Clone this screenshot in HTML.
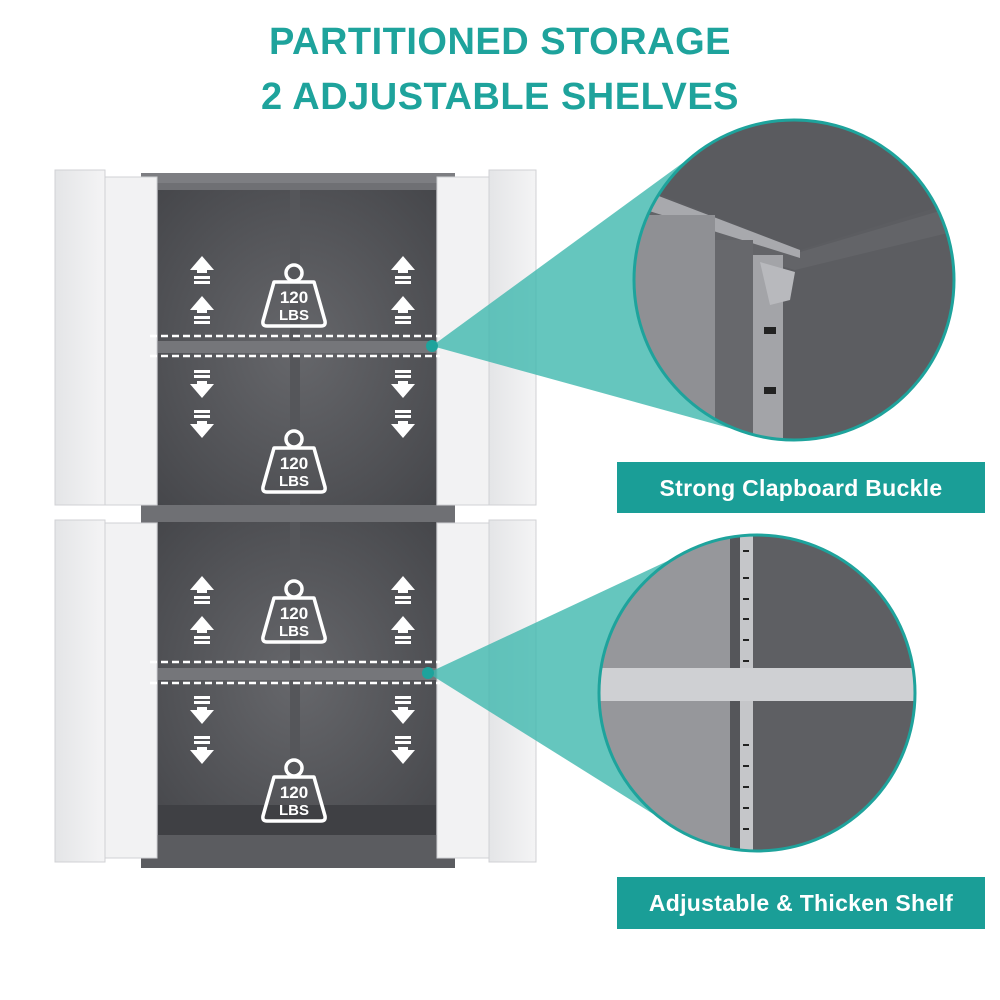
<!DOCTYPE html>
<html><head><meta charset="utf-8"><style>
html,body{margin:0;padding:0;background:#fff;}
svg{display:block}
.t{font-family:"Liberation Sans",sans-serif;font-weight:bold;}
</style></head><body>
<svg width="1000" height="1000" viewBox="0 0 1000 1000" xmlns="http://www.w3.org/2000/svg">
<defs>
<linearGradient id="door" x1="0" x2="1"><stop offset="0" stop-color="#e4e5e7"/><stop offset="1" stop-color="#f4f4f5"/></linearGradient>
<radialGradient id="inner" cx="0.5" cy="0.5" r="0.7"><stop offset="0" stop-color="#66676b"/><stop offset="1" stop-color="#46474b"/></radialGradient>
<g id="wt">
<circle cx="0" cy="-17" r="8" fill="none" stroke="#fff" stroke-width="3.5"/>
<path d="M-20,-8 L20,-8 L31,31 Q32,36 27,36 L-27,36 Q-32,36 -31,31 Z" fill="none" stroke="#fff" stroke-width="3.5" stroke-linejoin="round"/>
<text x="0" y="13" text-anchor="middle" class="t" font-size="17" fill="#fff">120</text>
<text x="0" y="30" text-anchor="middle" class="t" font-size="15" fill="#fff">LBS</text>
</g>
<g id="up"><path d="M0,-14 L12,0 L5,0 L5,3 L-5,3 L-5,0 L-12,0 Z" fill="#fff"/><rect x="-8" y="6" width="16" height="3" fill="#fff"/><rect x="-8" y="11" width="16" height="3" fill="#fff"/></g>
<g id="dn"><g transform="scale(1,-1)"><path d="M0,-14 L12,0 L5,0 L5,3 L-5,3 L-5,0 L-12,0 Z" fill="#fff"/><rect x="-8" y="6" width="16" height="3" fill="#fff"/><rect x="-8" y="11" width="16" height="3" fill="#fff"/></g></g>
<clipPath id="c1"><circle cx="794" cy="280" r="160"/></clipPath>
<clipPath id="c2"><circle cx="757" cy="693" r="158"/></clipPath>
</defs>

<text x="500" y="54" text-anchor="middle" class="t" font-size="38" fill="#1ea39c" letter-spacing="0.5">PARTITIONED STORAGE</text>
<text x="500" y="109" text-anchor="middle" class="t" font-size="38" fill="#1ea39c" letter-spacing="0.5">2 ADJUSTABLE SHELVES</text>

<!-- upper cabinet -->
<rect x="141" y="173" width="314" height="335" fill="#6f7074"/>
<rect x="158" y="190" width="278" height="316" fill="url(#inner)"/>
<rect x="290" y="190" width="10" height="316" fill="#55565a"/>
<rect x="158" y="341" width="278" height="12" fill="#75767a"/>
<rect x="141" y="173" width="314" height="10" fill="#7d7e82"/>
<!-- lower cabinet -->
<rect x="141" y="505" width="314" height="363" fill="#6f7074"/>
<rect x="158" y="522" width="278" height="313" fill="url(#inner)"/>
<rect x="290" y="522" width="10" height="300" fill="#55565a"/>
<rect x="158" y="805" width="278" height="30" fill="#3f4044"/>
<rect x="158" y="668" width="278" height="12" fill="#75767a"/>
<rect x="141" y="835" width="314" height="33" fill="#5b5c60"/>

<!-- doors -->
<g stroke="#d0d1d4" stroke-width="1">
<rect x="55" y="170" width="50" height="335" fill="url(#door)"/>
<rect x="105" y="177" width="52" height="328" fill="#f2f2f3"/>
<rect x="437" y="177" width="52" height="328" fill="#f2f2f3"/>
<rect x="489" y="170" width="47" height="335" fill="url(#door)"/>
<rect x="55" y="520" width="50" height="342" fill="url(#door)"/>
<rect x="105" y="523" width="52" height="335" fill="#f2f2f3"/>
<rect x="437" y="523" width="52" height="335" fill="#f2f2f3"/>
<rect x="489" y="520" width="47" height="342" fill="url(#door)"/>
</g>

<!-- dashed shelf marks -->
<g fill="none" stroke="#fff" stroke-width="2.5" stroke-dasharray="7,4">
<line x1="150" y1="336" x2="440" y2="336"/><line x1="150" y1="356" x2="440" y2="356"/>
<line x1="150" y1="662" x2="440" y2="662"/><line x1="150" y1="683" x2="440" y2="683"/>
</g>

<!-- beams -->
<polygon points="432,346 699,151 751,434" fill="#3fb8ae" opacity="0.8"/>
<polygon points="428,673 691,550 674,827" fill="#3fb8ae" opacity="0.8"/>
<circle cx="432" cy="346" r="6" fill="#1ea39c"/>
<circle cx="428" cy="673" r="6" fill="#1ea39c"/>

<!-- icons -->
<use href="#wt" x="294" y="290"/>
<use href="#wt" x="294" y="456"/>
<use href="#wt" x="294" y="606"/>
<use href="#wt" x="294" y="785"/>
<use href="#up" x="202" y="270"/><use href="#up" x="202" y="310"/>
<use href="#up" x="403" y="270"/><use href="#up" x="403" y="310"/>
<use href="#dn" x="202" y="384"/><use href="#dn" x="202" y="424"/>
<use href="#dn" x="403" y="384"/><use href="#dn" x="403" y="424"/>
<use href="#up" x="202" y="590"/><use href="#up" x="202" y="630"/>
<use href="#up" x="403" y="590"/><use href="#up" x="403" y="630"/>
<use href="#dn" x="202" y="710"/><use href="#dn" x="202" y="750"/>
<use href="#dn" x="403" y="710"/><use href="#dn" x="403" y="750"/>

<!-- top circle -->
<g clip-path="url(#c1)">
<rect x="630" y="115" width="330" height="330" fill="#5c5d61"/>
<polygon points="630,115 960,115 960,200 800,250 650,190" fill="#5a5b5f"/>
<polygon points="630,200 790,255 960,205 960,230 795,270 630,225" fill="#636468"/>
<polygon points="630,185 800,250 800,258 630,205" fill="#a8a9ad"/>
<rect x="630" y="215" width="85" height="230" fill="#8f9094"/>
<rect x="715" y="240" width="38" height="205" fill="#67686c"/>
<rect x="753" y="255" width="30" height="190" fill="#a3a4a8"/>
<path d="M760,262 L795,272 L790,300 L770,305 Z" fill="#b8b9bd"/>
<rect x="764" y="327" width="12" height="7" fill="#222"/>
<rect x="764" y="387" width="12" height="7" fill="#222"/>
</g>
<circle cx="794" cy="280" r="160" fill="none" stroke="#1ea39c" stroke-width="3"/>

<!-- bottom circle -->
<g clip-path="url(#c2)">
<rect x="595" y="530" width="325" height="330" fill="#5e5f63"/>
<rect x="595" y="530" width="135" height="330" fill="#96979b"/>
<rect x="730" y="535" width="10" height="320" fill="#55565a"/>
<rect x="740" y="535" width="13" height="320" fill="#c5c6c9"/>
<rect x="595" y="668" width="325" height="33" fill="#cfd0d3"/>
<g fill="#222">
<rect x="743" y="550" width="6" height="2"/><rect x="743" y="577" width="6" height="2"/><rect x="743" y="598" width="6" height="2"/><rect x="743" y="618" width="6" height="2"/><rect x="743" y="639" width="6" height="2"/><rect x="743" y="660" width="6" height="2"/>
<rect x="743" y="744" width="6" height="2"/><rect x="743" y="765" width="6" height="2"/><rect x="743" y="786" width="6" height="2"/><rect x="743" y="807" width="6" height="2"/><rect x="743" y="828" width="6" height="2"/>
</g>
</g>
<circle cx="757" cy="693" r="158" fill="none" stroke="#1ea39c" stroke-width="3"/>

<!-- labels -->
<rect x="617" y="462" width="368" height="51" fill="#1a9e97"/>
<text x="801" y="496" text-anchor="middle" class="t" font-size="23" fill="#fff" letter-spacing="0.3">Strong Clapboard Buckle</text>
<rect x="617" y="877" width="368" height="52" fill="#1a9e97"/>
<text x="801" y="911" text-anchor="middle" class="t" font-size="23" fill="#fff" letter-spacing="0.3">Adjustable &amp; Thicken Shelf</text>
</svg>
</body></html>
